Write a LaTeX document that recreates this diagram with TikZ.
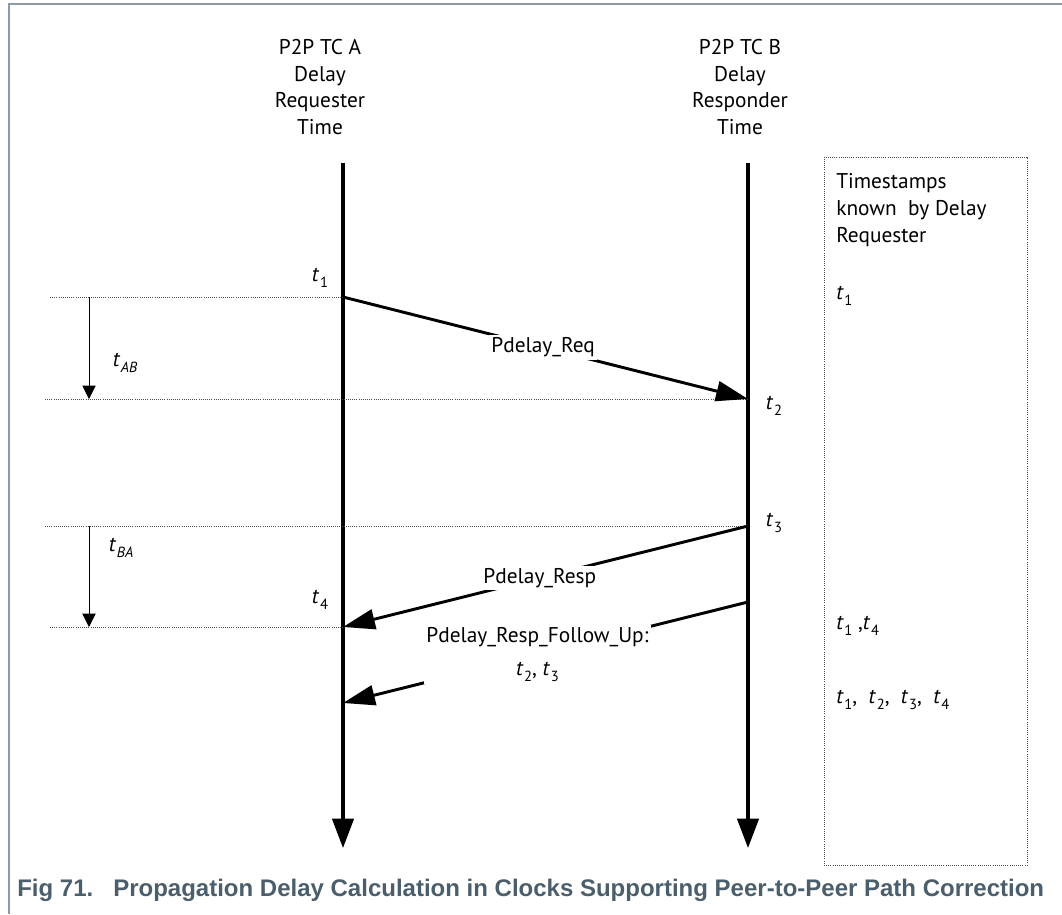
\documentclass[tikz,border=0pt]{standalone}
\usepackage{fontspec}
\setmainfont{PT Sans}
\newfontfamily\captionfont{Liberation Sans}
\usetikzlibrary{arrows.meta,positioning}
\usepackage{xcolor}
\definecolor{framegray}{HTML}{8C9BA4}
\definecolor{captionslate}{HTML}{4B5E6B}
\newcommand{\tstamp}[1]{\textit{t}\kern0.5pt\raisebox{-0.55ex}{\fontsize{11}{12}\selectfont #1}}

\begin{document}
\begin{tikzpicture}[
            x=0.75pt, y=-0.75pt,
            lbl/.style={font=\fontsize{16}{20}\selectfont, align=center, inner sep=1pt},
            boxtext/.style={font=\fontsize{16}{20}\selectfont, align=left, anchor=west, inner sep=0pt},
            msglbl/.style={lbl, fill=white, inner sep=2pt},
            lifeline/.style={line width=2.5pt, -{Triangle[length=22pt,width=16pt]}},
            msg/.style={line width=2.2pt, -{Triangle[length=24pt,width=15pt]}},
            guide/.style={densely dotted, line width=0.6pt, black!70},
            span/.style={line width=0.7pt, -{Triangle[length=10pt,width=10pt]}},
            knownbox/.style={rectangle, draw=black!70, densely dotted, line width=0.6pt, minimum width=152.25pt, minimum height=531pt}
        ]
            \useasboundingbox (0,0) rectangle (1062,914);

            % --- FRAME ---
            \draw[framegray, line width=1.5pt] (9,914) -- (9,4) -- (1062,4);

            % --- LIFELINES ---
            \coordinate (Atop) at (343,163);
            \coordinate (Abot) at (343,848);
            \coordinate (Btop) at (748,163);
            \coordinate (Bbot) at (748,848);
            \node[lbl] (headA) at (320,87) {P2P TC A\\Delay\\Requester\\Time};
            \node[lbl] (headB) at (740,87) {P2P TC B\\Delay\\Responder\\Time};
            \draw[lifeline] (Atop) -- (Abot);
            \draw[lifeline] (Btop) -- (Bbot);

            % --- EVENTS ---
            \coordinate (t1) at (343,297);
            \coordinate (t2) at (748,399);
            \coordinate (t3) at (748,526);
            \coordinate (t4) at (343,627);
            \coordinate (fu) at (748,602);
            \coordinate (fuend) at (343,703);
            \node[lbl] (lt1) at (320,278) {\tstamp{1}};
            \node[lbl] (lt2) at (774,406) {\tstamp{2}};
            \node[lbl] (lt3) at (774,523) {\tstamp{3}};
            \node[lbl] (lt4) at (320,600) {\tstamp{4}};

            % --- GUIDES ---
            \coordinate (g1) at (50,297);
            \coordinate (g2) at (45,399);
            \coordinate (g3) at (45,526);
            \coordinate (g4) at (50,627);
            \draw[guide] (g1) -- (t1);
            \draw[guide] (g2) -- (t2);
            \draw[guide] (g3) -- (t3);
            \draw[guide] (g4) -- (t4);

            % --- DELAYS ---
            \coordinate (ab1) at (89,297);
            \coordinate (ab2) at (89,399);
            \coordinate (ba1) at (89,526);
            \coordinate (ba2) at (89,627);
            \draw[span] (ab1) -- (ab2);
            \draw[span] (ba1) -- (ba2);
            \node[lbl] (ltab) at (125,363) {\tstamp{\itshape AB}};
            \node[lbl] (ltba) at (121,548) {\tstamp{\itshape BA}};

            % --- MESSAGES ---
            \draw[msg] (t1) -- node[msglbl, pos=0.494] (req) {Pdelay\_Req} (t2);
            \draw[msg] (t3) -- node[msglbl, pos=0.514] (resp) {Pdelay\_Resp} (t4);
            \draw[msg] (fu) -- node[msglbl, pos=0.52, font=\fontsize{16}{25}\selectfont] (follow) {Pdelay\_Resp\_Follow\_Up:\\\tstamp{2}, \tstamp{3}} (fuend);

            % --- KNOWN TIMESTAMPS ---
            \node[knownbox] (known) at (925.5,511) {};
            \node[boxtext] (knowntitle) at (836,210) {Timestamps\\known~~by Delay\\Requester};
            \node[boxtext] (k1) at (836,296) {\tstamp{1}};
            \node[boxtext] (k2) at (836,626) {\tstamp{1} ,\tstamp{4}};
            \node[boxtext] (k3) at (836,700) {\tstamp{1}, ~\tstamp{2}, ~\tstamp{3}, ~\tstamp{4}};

            % --- CAPTION ---
            \node[anchor=west, inner sep=0pt, text=captionslate, font=\captionfont\bfseries\fontsize{18}{21}\selectfont] (caption) at (17,890) {Fig 71.~~~Propagation Delay Calculation in Clocks Supporting Peer-to-Peer Path Correction};

        \end{tikzpicture}
\end{document}
